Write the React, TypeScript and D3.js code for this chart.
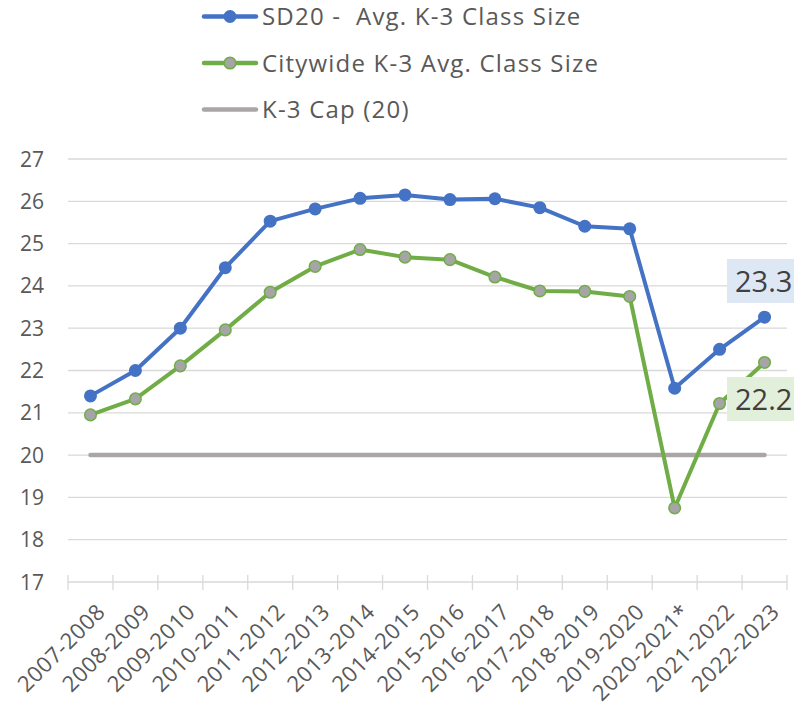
import * as d3 from 'd3';
import { useEffect, useRef } from 'react';

const years = [
  '2007-2008', '2008-2009', '2009-2010', '2010-2011', '2011-2012', '2012-2013',
  '2013-2014', '2014-2015', '2015-2016', '2016-2017', '2017-2018', '2018-2019',
  '2019-2020', '2020-2021*', '2021-2022', '2022-2023',
];
const sd20 = [21.4, 22.0, 23.0, 24.43, 25.53, 25.82, 26.07, 26.15, 26.04, 26.06, 25.85, 25.41, 25.35, 21.58, 22.5, 23.26];
const citywide = [20.95, 21.33, 22.11, 22.96, 23.85, 24.46, 24.86, 24.68, 24.62, 24.21, 23.88, 23.87, 23.75, 18.75, 21.22, 22.19];
const cap = years.map(() => 20);
const yTicks = [17, 18, 19, 20, 21, 22, 23, 24, 25, 26, 27];

const FONT = '"Open Sans", Lato, sans-serif';
const TEXT = '#595959';

const App = () => {
  const ref = useRef<SVGSVGElement>(null);

  useEffect(() => {
    const svg = d3.select(ref.current);
    svg.selectAll('*').remove();

    const left = 68, right = 787, top = 159, bottom = 582;

    const x = d3.scaleBand().domain(years).range([left, right]);
    const cx = (d: string) => (x(d) as number) + x.bandwidth() / 2;
    const y = d3.scaleLinear().domain([17, 27]).range([bottom, top]);

    // gridlines
    svg.append('g').selectAll('line')
      .data(yTicks.slice(1))
      .enter().append('line')
      .attr('x1', left).attr('x2', right)
      .attr('y1', d => y(d)).attr('y2', d => y(d))
      .attr('stroke', '#d9d9d9').attr('stroke-width', 1.3);

    // y labels
    svg.append('g').selectAll('text')
      .data(yTicks)
      .enter().append('text')
      .attr('x', 44).attr('y', d => y(d))
      .attr('dy', '0.36em')
      .attr('text-anchor', 'end')
      .attr('font-family', FONT).attr('font-size', 21)
      .attr('fill', TEXT)
      .text(d => d);

    // x axis
    svg.append('line')
      .attr('x1', left).attr('x2', right)
      .attr('y1', bottom).attr('y2', bottom)
      .attr('stroke', '#d9d9d9').attr('stroke-width', 1.3);
    const bounds = years.map(d => x(d) as number).concat([right]);
    svg.append('g').selectAll('line')
      .data(bounds)
      .enter().append('line')
      .attr('x1', d => d).attr('x2', d => d)
      .attr('y1', bottom - 7).attr('y2', bottom + 8)
      .attr('stroke', '#d9d9d9').attr('stroke-width', 1.3);

    svg.append('g').selectAll('text')
      .data(years)
      .enter().append('text')
      .attr('transform', d => `translate(${cx(d) + 5},${bottom + 20}) rotate(-45)`)
      .attr('text-anchor', 'end')
      .attr('dy', '0.72em')
      .attr('font-family', FONT).attr('font-size', 22)
      .attr('letter-spacing', 0.6)
      .attr('fill', TEXT)
      .text(d => d);

    const line = d3.line<number>()
      .x((_, i) => cx(years[i]))
      .y(d => y(d));

    // cap line
    svg.append('path')
      .attr('d', line(cap))
      .attr('fill', 'none').attr('stroke', '#aaa6a6')
      .attr('stroke-width', 4.5).attr('stroke-linecap', 'round');

    // citywide
    svg.append('path')
      .attr('d', line(citywide))
      .attr('fill', 'none').attr('stroke', '#70ad47')
      .attr('stroke-width', 4).attr('stroke-linejoin', 'round');
    svg.append('g').selectAll('circle')
      .data(citywide)
      .enter().append('circle')
      .attr('cx', (_, i) => cx(years[i])).attr('cy', d => y(d))
      .attr('r', 5.8)
      .attr('fill', '#a5a5a5').attr('stroke', '#70ad47').attr('stroke-width', 1.5);

    // sd20
    svg.append('path')
      .attr('d', line(sd20))
      .attr('fill', 'none').attr('stroke', '#4472c4')
      .attr('stroke-width', 4).attr('stroke-linejoin', 'round');
    svg.append('g').selectAll('circle')
      .data(sd20)
      .enter().append('circle')
      .attr('cx', (_, i) => cx(years[i])).attr('cy', d => y(d))
      .attr('r', 6.5)
      .attr('fill', '#4472c4');

    // data labels on last points
    const labels = [
      { v: sd20[sd20.length - 1], bg: '#dde8f4', top: 259 },
      { v: citywide[citywide.length - 1], bg: '#e2efda', top: 377 },
    ];
    labels.forEach(l => {
      svg.append('rect')
        .attr('x', 727).attr('y', l.top)
        .attr('width', 80).attr('height', 44)
        .attr('fill', l.bg);
      svg.append('text')
        .attr('x', 735).attr('y', l.top + 23)
        .attr('dy', '0.36em')
        .attr('font-family', FONT).attr('font-size', 29)
        .attr('fill', '#404040')
        .text(l.v.toFixed(1));
    });

    // legend
    const legend = [
      { name: 'SD20 -  Avg. K-3 Class Size', color: '#4472c4', marker: 'blue' },
      { name: 'Citywide K-3 Avg. Class Size', color: '#70ad47', marker: 'gray' },
      { name: 'K-3 Cap (20)', color: '#aaa6a6', marker: 'none' },
    ];
    legend.forEach((l, i) => {
      const ly = 16.5 + i * 46.5;
      svg.append('line')
        .attr('x1', 204).attr('x2', 256)
        .attr('y1', ly).attr('y2', ly)
        .attr('stroke', l.color).attr('stroke-width', 4.5)
        .attr('stroke-linecap', 'round');
      if (l.marker === 'blue') {
        svg.append('circle').attr('cx', 230).attr('cy', ly).attr('r', 6.5).attr('fill', '#4472c4');
      } else if (l.marker === 'gray') {
        svg.append('circle').attr('cx', 230).attr('cy', ly).attr('r', 5.8)
          .attr('fill', '#a5a5a5').attr('stroke', '#70ad47').attr('stroke-width', 1.5);
      }
      svg.append('text')
        .attr('x', 262).attr('y', ly)
        .attr('dy', '0.36em')
        .attr('font-family', FONT).attr('font-size', 24)
        .attr('letter-spacing', 1.2)
        .attr('fill', TEXT)
        .style('white-space', 'pre')
        .text(l.name);
    });
  }, []);

  return (
    <svg
      ref={ref}
      width={794}
      height={706}
      style={{ position: 'absolute', left: 0, top: 0, background: '#fff' }}
    />
  );
};

export default App;
